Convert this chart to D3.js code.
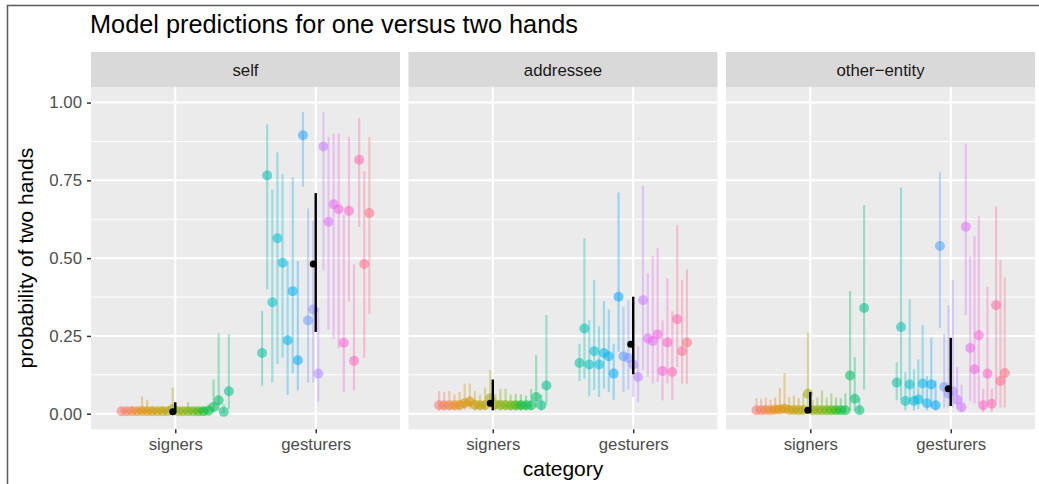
<!DOCTYPE html>
<html>
<head>
<meta charset="utf-8">
<script src="https://d3js.org/d3.v7.min.js"></script>
<style>
    body { margin: 0; background: #ffffff; }
    svg text { font-family: "Liberation Sans", Arial, sans-serif; }
</style>
</head>
<body>
<div id="chart"></div>
<script>

// facets and x categories
var panelNames = ["self", "addressee", "other\u2212entity"];
var categories = ["signers", "gesturers"];
var yTicks = [0, 0.25, 0.5, 0.75, 1];
var yMinor = [0.125, 0.375, 0.625, 0.875];

// per participant predictions: [estimate, lower, upper]
var selfSigners = [
    [0.008, 0.002, 0.022], [0.008, 0.002, 0.020], [0.008, 0.002, 0.025], [0.008, 0.002, 0.020],
    [0.009, 0.002, 0.055], [0.008, 0.002, 0.045], [0.008, 0.002, 0.025], [0.008, 0.002, 0.020],
    [0.008, 0.002, 0.025], [0.008, 0.002, 0.020], [0.015, 0.003, 0.085], [0.008, 0.002, 0.020],
    [0.008, 0.002, 0.020], [0.008, 0.002, 0.037], [0.008, 0.002, 0.020], [0.008, 0.002, 0.020],
    [0.008, 0.002, 0.022], [0.010, 0.002, 0.030], [0.022, 0.005, 0.110], [0.043, 0.010, 0.258],
    [0.006, 0.001, 0.030], [0.072, 0.015, 0.255]
];
var selfGesturers = [
    [0.195, 0.090, 0.330], [0.766, 0.400, 0.930], [0.358, 0.100, 0.720], [0.564, 0.160, 0.840],
    [0.485, 0.180, 0.770], [0.236, 0.060, 0.490], [0.394, 0.130, 0.760], [0.172, 0.075, 0.490],
    [0.895, 0.730, 0.970], [0.300, 0.100, 0.660], [0.335, 0.100, 0.620], [0.129, 0.040, 0.340],
    [0.859, 0.460, 0.970], [0.617, 0.270, 0.890], [0.673, 0.240, 0.900], [0.657, 0.210, 0.900],
    [0.228, 0.070, 0.640], [0.652, 0.360, 0.890], [0.170, 0.075, 0.480], [0.816, 0.600, 0.950],
    [0.481, 0.180, 0.780], [0.645, 0.320, 0.890]
];
var addrSigners = [
    [0.027, 0.011, 0.073], [0.027, 0.011, 0.070], [0.027, 0.011, 0.073], [0.027, 0.011, 0.062],
    [0.028, 0.011, 0.070], [0.034, 0.013, 0.097], [0.039, 0.015, 0.097], [0.029, 0.011, 0.073],
    [0.027, 0.011, 0.062], [0.028, 0.011, 0.084], [0.050, 0.020, 0.140], [0.030, 0.011, 0.064],
    [0.028, 0.011, 0.080], [0.028, 0.011, 0.080], [0.027, 0.011, 0.062], [0.027, 0.011, 0.064],
    [0.027, 0.011, 0.062], [0.027, 0.011, 0.058], [0.027, 0.011, 0.080], [0.054, 0.020, 0.188],
    [0.027, 0.010, 0.060], [0.091, 0.030, 0.317]
];
var addrGesturers = [
    [0.163, 0.105, 0.225], [0.274, 0.113, 0.564], [0.158, 0.056, 0.300], [0.201, 0.077, 0.430],
    [0.158, 0.054, 0.281], [0.195, 0.080, 0.362], [0.185, 0.070, 0.335], [0.129, 0.045, 0.225],
    [0.376, 0.199, 0.711], [0.185, 0.070, 0.344], [0.179, 0.078, 0.365], [0.158, 0.054, 0.295],
    [0.118, 0.037, 0.217], [0.365, 0.140, 0.733], [0.242, 0.118, 0.451], [0.234, 0.097, 0.507],
    [0.255, 0.102, 0.532], [0.137, 0.043, 0.300], [0.229, 0.097, 0.435], [0.134, 0.045, 0.330],
    [0.304, 0.150, 0.607], [0.201, 0.097, 0.430], [0.229, 0.097, 0.464]
];
var otherSigners = [
    [0.011, 0.003, 0.050], [0.011, 0.003, 0.048], [0.012, 0.003, 0.052], [0.011, 0.003, 0.045],
    [0.013, 0.003, 0.052], [0.014, 0.003, 0.083], [0.016, 0.004, 0.131], [0.012, 0.003, 0.053],
    [0.012, 0.003, 0.058], [0.011, 0.003, 0.050], [0.012, 0.003, 0.065], [0.064, 0.015, 0.261],
    [0.011, 0.003, 0.045], [0.011, 0.003, 0.052], [0.011, 0.003, 0.075], [0.011, 0.003, 0.052],
    [0.011, 0.003, 0.065], [0.011, 0.003, 0.052], [0.011, 0.003, 0.050], [0.011, 0.003, 0.065],
    [0.123, 0.010, 0.394], [0.048, 0.010, 0.182], [0.011, 0.002, 0.050], [0.340, 0.077, 0.671]
];
var otherGesturers = [
    [0.100, 0.043, 0.166], [0.279, 0.045, 0.727], [0.041, 0.011, 0.134], [0.094, 0.040, 0.368],
    [0.041, 0.011, 0.143], [0.046, 0.015, 0.175], [0.097, 0.033, 0.285], [0.034, 0.011, 0.121],
    [0.094, 0.021, 0.245], [0.027, 0.011, 0.107], [0.539, 0.276, 0.777], [0.086, 0.020, 0.256],
    [0.064, 0.021, 0.349], [0.072, 0.021, 0.430], [0.045, 0.015, 0.150], [0.021, 0.005, 0.093],
    [0.601, 0.317, 0.868], [0.211, 0.040, 0.505], [0.143, 0.033, 0.572], [0.252, 0.033, 0.634],
    [0.027, 0.005, 0.080], [0.129, 0.033, 0.408], [0.032, 0.005, 0.080], [0.349, 0.040, 0.666],
    [0.105, 0.020, 0.494], [0.131, 0.020, 0.438]
];

// group level predictions (black): [signers, gesturers] per panel
var selfMeans = [[0.006, 0.001, 0.037], [0.481, 0.263, 0.709]];
var addrMeans = [[0.034, 0.011, 0.110], [0.223, 0.127, 0.376]];
var otherMeans = [[0.011, 0.003, 0.070], [0.080, 0.025, 0.244]];

var panelData = [
    [selfSigners, selfGesturers, selfMeans],
    [addrSigners, addrGesturers, addrMeans],
    [otherSigners, otherGesturers, otherMeans]
];

// ggplot style hue colours (polar LUV)
function hueColor(h) {
    var c = 100, l = 65;
    var hr = h * Math.PI / 180;
    var U = c * Math.cos(hr), V = c * Math.sin(hr);
    var Xn = 95.047, Yn = 100, Zn = 108.883;
    var Y = Yn * Math.pow((l + 16) / 116, 3);
    var un = 4 * Xn / (Xn + 15 * Yn + 3 * Zn), vn = 9 * Yn / (Xn + 15 * Yn + 3 * Zn);
    var u = U / (13 * l) + un, v = V / (13 * l) + vn;
    var X = 9 * Y * u / (4 * v);
    var Z = -X / 3 - 5 * Y + 3 * Y / v;
    var x = X / 100, y = Y / 100, z = Z / 100;
    var rgb = [
        3.240479 * x - 1.537150 * y - 0.498535 * z,
        -0.969256 * x + 1.875992 * y + 0.041556 * z,
        0.055648 * x - 0.204043 * y + 1.057311 * z
    ].map(function (t) {
        t = t <= 0.0031308 ? 12.92 * t : 1.055 * Math.pow(t, 1 / 2.4) - 0.055;
        return Math.round(Math.max(0, Math.min(1, t)) * 255);
    });
    return d3.rgb(rgb[0], rgb[1], rgb[2]).formatHex();
}

var width = 1039, height = 484;
var panelTop = 87, panelBottom = 429.3, stripTop = 52;

var svg = d3.select("#chart").append("svg")
    .attr("width", width)
    .attr("height", height);

// window border
svg.append("path")
    .attr("d", "M7.5," + height + "V5.5H" + width)
    .attr("fill", "none")
    .attr("stroke", "#5a5a5a")
    .attr("stroke-width", 1.5);

var facet = d3.scaleBand()
    .domain(panelNames)
    .range([91, 1035])
    .paddingInner(0.0268);
var pw = facet.bandwidth();

var x = d3.scalePoint()
    .domain(categories)
    .range([0, pw])
    .padding(0.6);
var step = x.step();

var y = d3.scaleLinear()
    .domain([-0.05, 1.05])
    .range([panelBottom, panelTop]);

// title
svg.append("text")
    .attr("x", 90)
    .attr("y", 33)
    .attr("font-size", 25.3)
    .attr("fill", "#000")
    .text("Model predictions for one versus two hands");

panelNames.forEach(function (name, pi) {
    var g = svg.append("g").attr("transform", "translate(" + facet(name) + ",0)");

    // strip
    g.append("rect")
        .attr("y", stripTop)
        .attr("width", pw)
        .attr("height", panelTop - stripTop)
        .attr("fill", "#D9D9D9");
    g.append("text")
        .attr("x", pw / 2)
        .attr("y", 76)
        .attr("text-anchor", "middle")
        .attr("font-size", 16.8)
        .attr("fill", "#1A1A1A")
        .text(name);

    // panel background and grid
    g.append("rect")
        .attr("y", panelTop)
        .attr("width", pw)
        .attr("height", panelBottom - panelTop)
        .attr("fill", "#EBEBEB");
    g.selectAll(".minor").data(yMinor).enter().append("line")
        .attr("x1", 0).attr("x2", pw)
        .attr("y1", function (d) { return y(d); })
        .attr("y2", function (d) { return y(d); })
        .attr("stroke", "#fff")
        .attr("stroke-width", 1);
    g.selectAll(".major").data(yTicks).enter().append("line")
        .attr("x1", 0).attr("x2", pw)
        .attr("y1", function (d) { return y(d); })
        .attr("y2", function (d) { return y(d); })
        .attr("stroke", "#fff")
        .attr("stroke-width", 2);
    g.selectAll(".vmajor").data(categories).enter().append("line")
        .attr("x1", function (d) { return x(d); })
        .attr("x2", function (d) { return x(d); })
        .attr("y1", panelTop).attr("y2", panelBottom)
        .attr("stroke", "#fff")
        .attr("stroke-width", 2);

    // participants, dodged inside each category
    var sets = panelData[pi];
    categories.forEach(function (cat, ci) {
        var rows = sets[ci];
        var dodge = d3.scaleBand()
            .domain(d3.range(rows.length))
            .range([x(cat) - 0.4 * step, x(cat) + 0.4 * step]);
        var hue = d3.scaleLinear()
            .domain([0, rows.length - 1])
            .range(ci === 0 ? [15, 165] : [175, 367]);
        var px = function (d, i) { return dodge(i) + dodge.bandwidth() / 2; };

        var pg = g.append("g");
        pg.selectAll("line").data(rows).enter().append("line")
            .attr("x1", px).attr("x2", px)
            .attr("y1", function (d) { return y(d[1]); })
            .attr("y2", function (d) { return y(d[2]); })
            .attr("stroke", function (d, i) { return hueColor(hue(i)); })
            .attr("stroke-opacity", 0.35)
            .attr("stroke-width", 2.2);
        pg.selectAll("circle").data(rows).enter().append("circle")
            .attr("cx", px)
            .attr("cy", function (d) { return y(d[0]); })
            .attr("r", 5)
            .attr("fill", function (d, i) { return hueColor(hue(i)); })
            .attr("fill-opacity", 0.55);
    });

    // group means
    var means = sets[2];
    g.selectAll(".mbar").data(means).enter().append("line")
        .attr("x1", function (d, i) { return x(categories[i]); })
        .attr("x2", function (d, i) { return x(categories[i]); })
        .attr("y1", function (d) { return y(d[1]); })
        .attr("y2", function (d) { return y(d[2]); })
        .attr("stroke", "#000")
        .attr("stroke-width", 2.4);
    g.selectAll(".mpt").data(means).enter().append("circle")
        .attr("cx", function (d, i) { return x(categories[i]) - 2.5; })
        .attr("cy", function (d) { return y(d[0]); })
        .attr("r", 3.5)
        .attr("fill", "#000");

    // x axis
    var xa = g.append("g")
        .attr("transform", "translate(0," + panelBottom + ")")
        .call(d3.axisBottom(x).tickSize(4).tickPadding(4.8));
    xa.select(".domain").remove();
    xa.selectAll("line").attr("stroke", "#333").attr("stroke-width", 1.5);
    xa.selectAll("text")
        .attr("font-size", 16.8)
        .attr("fill", "#4D4D4D")
        .style("font-family", "'Liberation Sans', Arial, sans-serif");

    if (pi === 0) {
        var ya = g.append("g")
            .call(d3.axisLeft(y).tickValues(yTicks).tickFormat(d3.format(".2f")).tickSize(4).tickPadding(5));
        ya.select(".domain").remove();
        ya.selectAll("line").attr("stroke", "#333").attr("stroke-width", 1.5);
        ya.selectAll("text")
            .attr("font-size", 16.8)
            .attr("fill", "#4D4D4D")
            .style("font-family", "'Liberation Sans', Arial, sans-serif");
    }
});

// axis titles
svg.append("text")
    .attr("x", (91 + 1035) / 2)
    .attr("y", 476)
    .attr("text-anchor", "middle")
    .attr("font-size", 21)
    .attr("fill", "#000")
    .text("category");
svg.append("text")
    .attr("transform", "translate(33," + (panelTop + panelBottom) / 2 + ") rotate(-90)")
    .attr("text-anchor", "middle")
    .attr("font-size", 21)
    .attr("fill", "#000")
    .text("probability of two hands");

</script>
</body>
</html>
